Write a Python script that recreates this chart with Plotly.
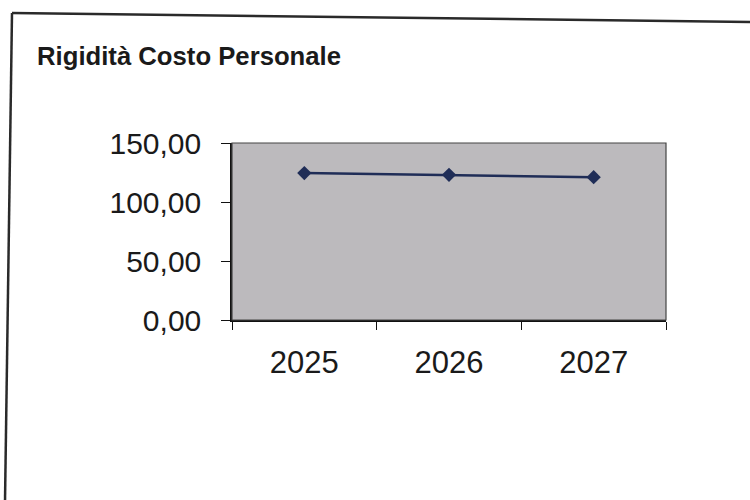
import plotly.graph_objects as go

years = ["2025", "2026", "2027"]
values = [124.5, 123.0, 121.0]
title_text = "Rigidità Costo Personale"
y_ticks = [0, 50, 100, 150]

W, H = 750, 500
L, R, T, B = 232, 84, 143, 180
pw, ph = W - L - R, H - T - B

def px(x):
    return (x - L) / pw

def py(y):
    return (H - B - y) / ph

fig = go.Figure()
fig.add_trace(go.Scatter(
    x=years, y=values, mode="lines+markers",
    line=dict(color="#1f2d57", width=2.5),
    marker=dict(symbol="diamond", size=11, color="#1f2d57",
                line=dict(color="#1f2d57", width=0)),
    showlegend=False, hoverinfo="skip",
))

fig.update_layout(
    width=W, height=H,
    margin=dict(l=L, r=R, t=T, b=B, pad=0),
    paper_bgcolor="white",
    plot_bgcolor="#bcbabd",
    separators=",.",
    font=dict(family="Liberation Sans, Arial, sans-serif", color="#1a1a1a"),
    annotations=[dict(
        text="<b>" + title_text + "</b>", xref="paper", yref="paper",
        x=px(35), y=py(56), xanchor="left", yanchor="middle",
        showarrow=False, font=dict(size=25.7, color="#1a1a1a"),
    )],
    shapes=[
        dict(type="rect", xref="paper", yref="paper", x0=0, x1=1, y0=0, y1=1,
             line=dict(color="#444444", width=1.2), layer="above"),
        dict(type="line", xref="paper", yref="paper",
             x0=px(12), y0=py(13), x1=px(752), y1=py(22),
             line=dict(color="#2a2a2a", width=2.5)),
        dict(type="line", xref="paper", yref="paper",
             x0=px(12), y0=py(13), x1=px(5), y1=py(502),
             line=dict(color="#2a2a2a", width=2.5)),
    ],
)

fig.update_xaxes(
    type="category", range=[-0.5, 2.5], tickson="boundaries",
    ticks="outside", ticklen=8, tickwidth=1.2, tickcolor="#111111",
    showline=True, linecolor="#111111", linewidth=1.5,
    showgrid=False, zeroline=False,
    tickfont=dict(size=31, color="#1a1a1a"),
    ticklabelstandoff=14,
)
fig.update_yaxes(
    range=[0, 150], tickvals=y_ticks, tickformat=".2f",
    ticks="outside", ticklen=9, tickwidth=1.2, tickcolor="#111111",
    showline=True, linecolor="#111111", linewidth=1.5,
    showgrid=False, zeroline=False,
    tickfont=dict(size=30, color="#1a1a1a"),
    ticklabelstandoff=14,
)

fig.write_html("out.html")
